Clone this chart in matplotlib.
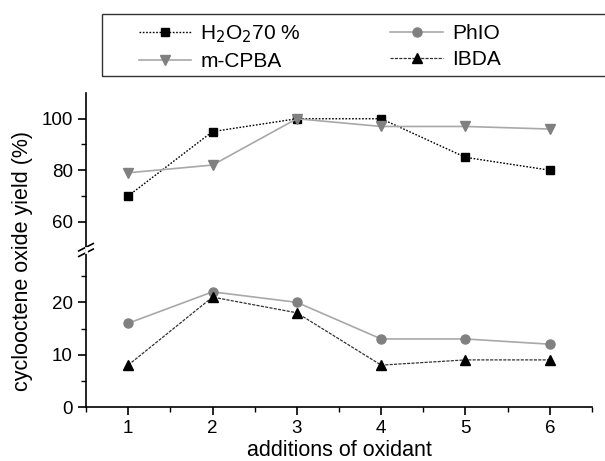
import numpy as np
import matplotlib.pyplot as plt
from matplotlib.ticker import MultipleLocator, FixedLocator
from matplotlib.patches import Rectangle

plt.rcParams['font.family'] = ['Liberation Sans', 'DejaVu Sans']

# data
additions = [1, 2, 3, 4, 5, 6]
h2o2 = [70, 95, 100, 100, 85, 80]
mcpba = [79, 82, 100, 97, 97, 96]
phio = [16, 22, 20, 13, 13, 12]
ibda = [8, 21, 18, 8, 9, 9]

GREY = "#808080"
LGREY = "#a8a8a8"

fig = plt.figure(figsize=(6.05, 4.61), dpi=100)
left, right = 86 / 605, 592 / 605
y_bot, y_mid, y_top = 1 - 407 / 461, 1 - 250 / 461, 1 - 93 / 461
ax_lo = fig.add_axes([left, y_bot, right - left, y_mid - y_bot])
ax_hi = fig.add_axes([left, y_mid, right - left, y_top - y_mid], sharex=ax_lo)

series = {
    "h2o2": (h2o2, "H$_2$O$_2$70 %", dict(color="black", ls=(0, (1.2, 1.2)), lw=1.0,
                                         marker="s", ms=6, mfc="black", mec="black")),
    "phio": (phio, "PhIO", dict(color=LGREY, ls="-", lw=1.2,
                                marker="o", ms=6.5, mfc=GREY, mec=GREY)),
    "mcpba": (mcpba, "m-CPBA", dict(color=LGREY, ls="-", lw=1.2,
                                    marker="v", ms=7.5, mfc=GREY, mec=GREY)),
    "ibda": (ibda, "IBDA", dict(color="#333333", ls=(0, (2.5, 1)), lw=0.9,
                                marker="^", ms=7, mfc="black", mec="black")),
}

handles = {}
for key, (vals, label, kw) in series.items():
    for ax in (ax_lo, ax_hi):
        h, = ax.plot(additions, vals, label=label, **kw)
    handles[key] = h

ax_lo.set_ylim(0, 30)
ax_hi.set_ylim(49, 110)
ax_lo.set_xlim(0.5, 6.5)

for ax in (ax_lo, ax_hi):
    ax.spines["top"].set_visible(False)
    ax.spines["right"].set_visible(False)
    ax.spines["left"].set_linewidth(1.2)
    ax.tick_params(direction="out", labelsize=13.5, width=1.2, length=6)
    ax.tick_params(which="minor", direction="out", width=1.0, length=3.5)
    ax.patch.set_alpha(0)

ax_hi.spines["bottom"].set_visible(False)
ax_hi.tick_params(axis="x", which="both", bottom=False, labelbottom=False)
ax_lo.spines["bottom"].set_linewidth(1.2)

ax_lo.yaxis.set_major_locator(FixedLocator([0, 10, 20]))
ax_lo.yaxis.set_minor_locator(FixedLocator([5, 15, 25]))
ax_hi.yaxis.set_major_locator(FixedLocator([60, 80, 100]))
ax_hi.yaxis.set_minor_locator(FixedLocator([70, 90]))
ax_lo.xaxis.set_minor_locator(MultipleLocator(0.5))
ax_lo.set_xticks(additions)

ax_lo.set_xlabel("additions of oxidant", fontsize=15.5, labelpad=2)
fig.text(0.038, 1 - 261 / 461, "cyclooctene oxide yield (%)",
         rotation=90, ha="center", va="center", fontsize=15.5)

# axis break marks
d = 0.012
for dy in (-0.006, 0.006):
    fig.add_artist(plt.Line2D([left - d, left + d],
                              [y_mid + dy - 0.008, y_mid + dy + 0.008],
                              color="black", lw=1.2, transform=fig.transFigure))
fig.add_artist(plt.Line2D([left, left], [y_mid - 0.004, y_mid + 0.004],
                          color="white", lw=2, transform=fig.transFigure))

# legend box runs past the right edge
fig.add_artist(Rectangle((102 / 605, 1 - 76 / 461), 520 / 605, 62 / 461,
                         transform=fig.transFigure, fill=False,
                         edgecolor="#333333", lw=1.0))
order = ["h2o2", "mcpba", "phio", "ibda"]
fig.legend([handles[k] for k in order], [series[k][1] for k in order],
           ncol=2, loc="upper left", bbox_to_anchor=(139 / 605, 1 - 23 / 461),
           fontsize=15, frameon=False, borderpad=0, borderaxespad=0,
           handlelength=2.5, handletextpad=0.45, labelspacing=0.35,
           columnspacing=4.3)

fig.savefig("out.png", dpi=100)
